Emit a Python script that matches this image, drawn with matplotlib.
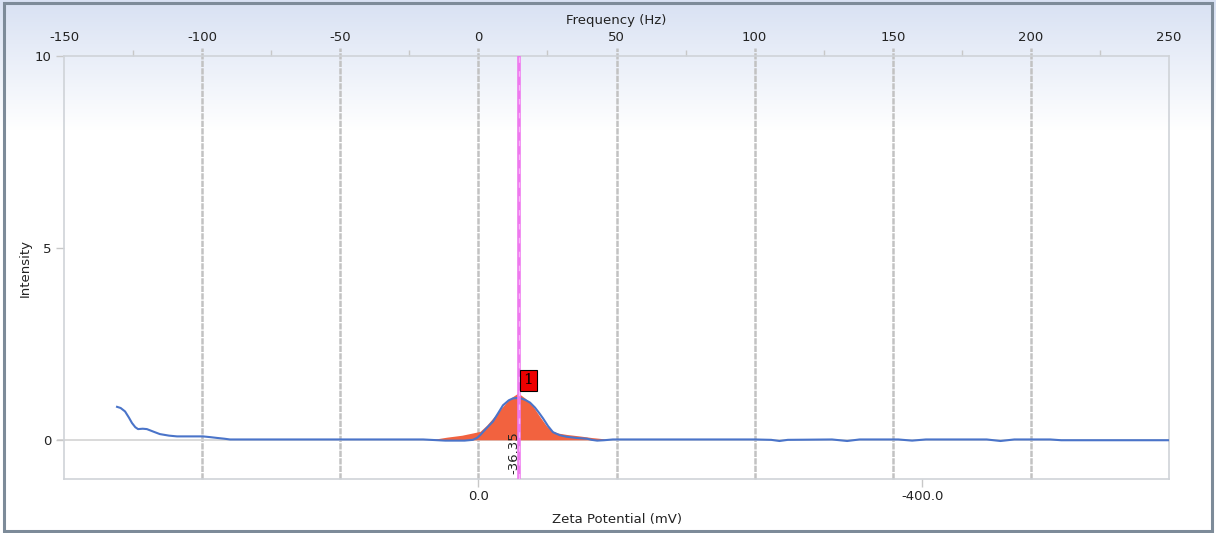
import numpy as np
import matplotlib
matplotlib.use("Agg")
import matplotlib.pyplot as plt
from matplotlib.patches import Rectangle

# ---------------- data ----------------
freq_ticks = [-150, -100, -50, 0, 50, 100, 150, 200, 250]
freq_minor = [-125, -75, -25, 25, 75, 125, 175, 225]
grid_freqs = [-100, -50, 0, 50, 100, 150, 200]
y_ticks = [0, 5, 10]
zeta_ticks = [0.0, -400.0]
zeta_per_hz = -2.49          # zeta (mV) per Hz of frequency
peak_zeta = -36.35
peak_label = "1"

# blue spectrum (frequency Hz, intensity)
line_freq = [-130.8, -129.5, -127.9, -126.5, -125.4, -124.2, -123.2, -121.5, -120.0, -117.5,
             -115.3, -112.0, -109.1, -104.0, -99.7, -97.0, -94.6, -92.0, -89.9,
             -60.0, -20.0, -12.0, -5.0, -2.0, -0.5, 0.6, 2.5, 5.3, 7.2, 8.9, 11.0, 12.5,
             14.0, 15.5, 17.0, 18.7, 20.5, 22.0, 23.4, 25.2, 27.0, 29.5,
             32.0, 35.5, 39.3, 41.0, 43.0, 45.5, 48.7, 60.0, 100.0, 106.0, 109.0, 112.0,
             128.0, 133.5, 138.0, 152.0, 157.0, 162.0, 184.0, 189.0, 194.0, 207.0, 211.0,
             250.0]
line_int = [0.86, 0.83, 0.74, 0.58, 0.44, 0.33, 0.28, 0.29, 0.28, 0.21,
            0.15, 0.11, 0.09, 0.09, 0.09, 0.07, 0.05, 0.03, 0.01,
            0.01, 0.01, -0.02, -0.02, 0.0, 0.05, 0.12, 0.27, 0.48, 0.70, 0.90, 1.03, 1.08,
            1.09, 1.08, 1.04, 0.97, 0.84, 0.70, 0.56, 0.36, 0.20, 0.12,
            0.08, 0.05, 0.03, 0.0, -0.02, -0.01, 0.01, 0.01, 0.01, 0.0, -0.03, 0.0,
            0.01, -0.03, 0.01, 0.01, -0.02, 0.01, 0.01, -0.03, 0.01, 0.01, -0.01,
            -0.01]

# red distribution (frequency Hz, intensity)
fill_freq = [-17.5, -14.0, -11.4, -6.0, -2.0, 0.6, 3.0, 5.3, 8.0, 10.4, 12.5, 14.4,
             17.0, 19.8, 22.5, 24.8, 26.5, 28.5, 32.0, 36.8, 41.0, 45.1, 46.6]
fill_int = [0.0, 0.04, 0.07, 0.12, 0.18, 0.22, 0.38, 0.57, 0.80, 1.00, 1.13, 1.22,
            1.08, 0.87, 0.58, 0.35, 0.24, 0.18, 0.14, 0.10, 0.06, 0.03, 0.0]

# ---------------- figure ----------------
W, H = 1216, 533
fig = plt.figure(figsize=(W / 100, H / 100), dpi=100)
plt.rcParams['font.family'] = ['DejaVu Sans']
txt_col = '#222222'
fs = 9.5

# background gradient
bg = fig.add_axes([0, 0, 1, 1], zorder=-10)
bg.set_axis_off()
grad = np.ones((H, 1, 3))
top_col = np.array([216, 225, 243]) / 255.0
for i in range(H):
    t = min(i / 130.0, 1.0)
    grad[i, 0, :] = top_col * (1 - t) + np.array([1.0, 1.0, 1.0]) * t
bg.imshow(grad, aspect='auto', extent=[0, 1, 0, 1], origin='upper')
bg.set_xlim(0, 1)
bg.set_ylim(0, 1)
bg.add_patch(Rectangle((3.5 / W, 2.5 / H), (W - 8) / W, (H - 5.5) / H,
                       fill=False, edgecolor='#7d8b99', linewidth=2.2,
                       transform=bg.transAxes))

L, R, T, B = 64, 1169, 56, 479
ax = fig.add_axes([L / W, 1 - B / H, (R - L) / W, (B - T) / H])
ax.patch.set_alpha(0)
ax.set_xlim(-150, 250)
ax.set_ylim(-1.02, 10)

spine_col = '#cfd3d8'
for s in ax.spines.values():
    s.set_color(spine_col)
    s.set_linewidth(1.2)

# grid lines (extend a bit above the plot)
for g in grid_freqs:
    ax.vlines(g, -1.02, 10.22, colors='#c2c2c2', linewidth=1.8,
              linestyles=(0, (2.5, 0.5)), clip_on=False, zorder=1)

# zero line
ax.plot([-152.2, 250], [0, 0], color='#d3d3d3', linewidth=1.2, clip_on=False, zorder=1)

# red fill
ax.fill_between(fill_freq, 0, fill_int, color='#f2623f', linewidth=0, zorder=2)

# blue line
ax.plot(line_freq, line_int, color='#4a74c9', linewidth=1.5, zorder=3)

# peak marker line
peak_freq = peak_zeta / zeta_per_hz
ax.axvline(peak_freq, color='#ee78ee', linewidth=2.6, zorder=4)
ax.axvline(peak_freq, color='#f8b4f8', linewidth=1.0, linestyle=(0, (4, 6)), zorder=4)

# label box
ax.annotate(peak_label, xy=(peak_freq, 1.22), xytext=(3.5, 4), textcoords='offset points',
            ha='left', va='bottom', fontsize=11, family='DejaVu Serif', color='black',
            bbox=dict(boxstyle='square,pad=0.22', facecolor='#ee0000', edgecolor='black',
                      linewidth=0.8), zorder=6)

ax.text(peak_freq - 1.9, -0.33, f"{peak_zeta:.2f}", rotation=90, ha='center', va='center',
        fontsize=fs, color=txt_col, zorder=6)

# top axis (frequency)
ax.xaxis.set_ticks_position('top')
ax.xaxis.set_label_position('top')
ax.set_xticks(freq_ticks)
ax.set_xticklabels([str(v) for v in freq_ticks])
ax.set_xticks(freq_minor, minor=True)
ax.tick_params(axis='x', which='major', length=0, pad=9, labelsize=fs, labelcolor=txt_col)
ax.tick_params(axis='x', which='minor', length=4, color='#c8c8c8', width=1)
ax.set_xlabel('Frequency (Hz)', fontsize=fs, color=txt_col, labelpad=5)

# left axis
ax.set_yticks(y_ticks)
ax.tick_params(axis='y', length=6, color='#c8c8c8', width=1, pad=3, labelsize=fs,
               labelcolor=txt_col)
ax.set_ylabel('Intensity', fontsize=fs, color=txt_col, labelpad=2)

# bottom axis (zeta potential)
sec = ax.secondary_xaxis('bottom', functions=(lambda f: f * zeta_per_hz,
                                                  lambda z: z / zeta_per_hz))
sec.set_xticks(zeta_ticks)
sec.set_xticklabels([f"{v:.1f}" for v in zeta_ticks])
sec.tick_params(length=6, color='#c8c8c8', width=1, labelsize=fs, labelcolor=txt_col, pad=2)
sec.spines['bottom'].set_visible(False)
sec.set_xlabel('Zeta Potential (mV)', fontsize=fs, color=txt_col, labelpad=7)

fig.savefig('out.png', dpi=100)
